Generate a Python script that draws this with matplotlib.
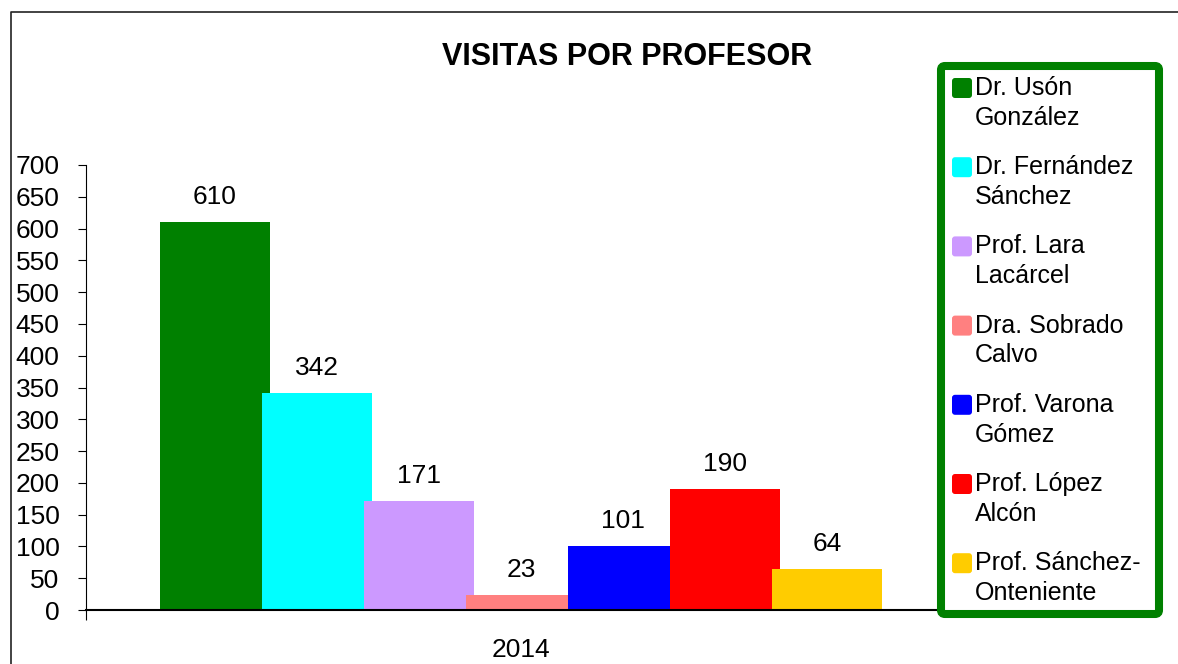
import matplotlib
matplotlib.use('Agg')
import matplotlib.pyplot as plt
from matplotlib.patches import FancyBboxPatch
from matplotlib.lines import Line2D
from matplotlib.transforms import Affine2D

plt.rcParams['font.family'] = ['Liberation Sans', 'DejaVu Sans']

# Data
profesores = ['Dr. Usón\nGonzález', 'Dr. Fernández\nSánchez', 'Prof. Lara\nLacárcel',
              'Dra. Sobrado\nCalvo', 'Prof. Varona\nGómez', 'Prof. López\nAlcón',
              'Prof. Sánchez-\nOnteniente']
visitas = [610, 342, 171, 23, 101, 190, 64]
colores = ['#008000', '#00FFFF', '#CC99FF', '#FF8080', '#0000FF', '#FF0000', '#FFCC00']
anio = '2014'
yticks = list(range(0, 701, 50))

W, H = 1178, 664
fig = plt.figure(figsize=(W / 100, H / 100), dpi=100)
# pixel coordinates, y going down
px = Affine2D().scale(1 / W, -1 / H).translate(0, 1) + fig.transFigure

ax = fig.add_axes([86 / W, 1 - 610 / H, 870 / W, 445 / H])

width = 110 / 102
xs = list(range(len(visitas)))
for x, v, c in zip(xs, visitas, colores):
    ax.bar(x, v, width=width, color=c, zorder=2)
    ax.annotate(str(v), (x, v), xytext=(0, 18), textcoords='offset points',
                ha='center', va='center', fontsize=19)

mid = (xs[0] + xs[-1]) / 2
half = 435 / 102
ax.set_xlim(mid - half, mid + half)
ax.set_ylim(0, 700)
ax.set_yticks(yticks)
ax.set_xticks([mid])
ax.set_xticklabels([anio])
ax.set_xticks([mid - half], minor=True)
ax.tick_params(axis='y', direction='out', length=6, width=0.8, labelsize=19, pad=13)
ax.tick_params(axis='x', which='major', length=0, labelsize=19, pad=20)
ax.tick_params(axis='x', which='minor', direction='out', length=7.2, width=0.8)

for s in ['top', 'right']:
    ax.spines[s].set_visible(False)
ax.spines['left'].set_linewidth(0.8)
ax.spines['bottom'].set_linewidth(1.5)
ax.spines['bottom'].set_zorder(3)

# title
fig.text(627.5 / W, 1 - 65 / H, 'VISITAS POR PROFESOR', ha='center', va='baseline',
         fontsize=22, fontweight='bold')

# outer chart border
fig.add_artist(Line2D([11, 11, W], [H, 12, 12], color='#222222', lw=1.2, transform=px))

# legend
fig.add_artist(FancyBboxPatch((941, 66), 218, 548,
                              boxstyle='round,pad=0,rounding_size=4',
                              facecolor='white', edgecolor='#008000', lw=5.8,
                              transform=px))
pitch = 79.2
for i, (nombre, c) in enumerate(zip(profesores, colores)):
    yc = 88 + i * pitch
    fig.add_artist(FancyBboxPatch((952, yc - 10), 20, 20,
                                  boxstyle='round,pad=0,rounding_size=3',
                                  facecolor=c, edgecolor='none', transform=px))
    fig.text(975 / W, 1 - (yc - 12) / H, nombre, ha='left', va='top',
             fontsize=18, linespacing=1.3)

fig.savefig('out.png', dpi=100)
